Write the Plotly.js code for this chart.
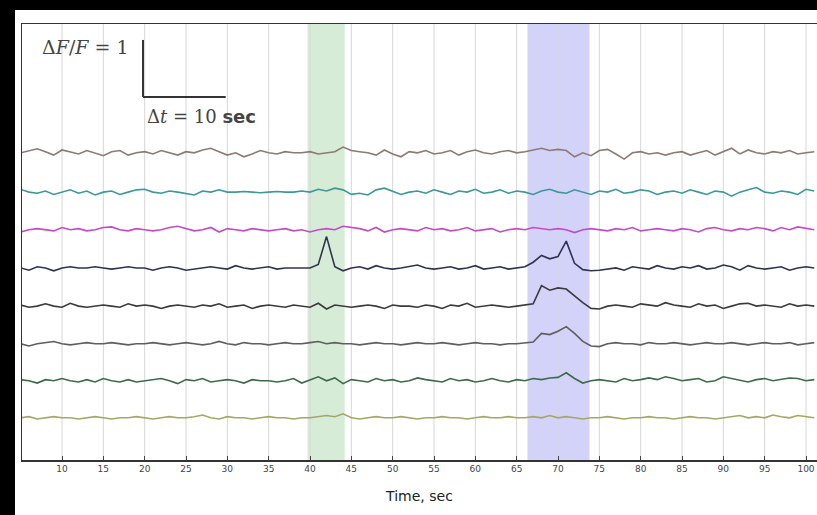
<!DOCTYPE html>
<html><head><meta charset="utf-8">
<script src="https://cdn.plot.ly/plotly-3.0.1.min.js"></script>
<style>
html,body{margin:0;padding:0;background:#000;overflow:hidden;}
#wrap{position:absolute;left:15px;top:10px;width:802px;height:505px;background:#fff;}
#chart{width:802px;height:505px;}
</style></head>
<body><div id="wrap"><div id="chart"></div></div>
<script>
// Time axis: samples every 1 s starting at t = 5 s
const tStart = 5;
const tStep = 1;
// Traces, values in hundredths of dF/F (relative to each trace's baseline)
const cell1 = [0,4,7,2,-4,5,2,-2,4,0, -5,2,4,-4,0,2,-2,4,0,-4, 2,0,5,8,2,-4,0,-7,-2,4, 0,-2,2,0,0,2,-2,0,2,10, 4,2,0,-4,5,-2,-7,2,0,4, -2,0,4,-4,2,5,0,-2,2,4, 0,2,5,8,4,6,4,-7,0,-5, 4,6,-2,-11,0,2,-2,0,-4,0, 2,-4,0,4,-4,2,8,-2,5,0, -2,2,0,4,-2,0,2];
const cell2 = [5,0,-2,2,-4,0,4,-2,2,-5, 0,2,-4,0,4,5,0,-2,2,0, -2,-5,2,0,4,0,0,1,0,-1, 0,1,0,0,2,0,5,2,7,4, -4,-2,-5,4,7,2,-4,0,2,-2, 4,0,-4,2,0,5,-2,0,4,-2, 2,0,-4,2,5,0,-2,4,0,-4, 2,0,5,-2,0,4,2,-4,0,2, -2,4,0,-4,2,0,-7,0,4,8, 0,-2,2,0,-4,5,2];
const cell3 = [-4,0,2,0,-2,4,0,2,-2,0, 4,5,0,-2,2,0,-2,0,4,6, 2,-2,0,4,-4,2,0,-2,2,0, -2,0,2,-2,0,-4,0,2,0,6, 4,2,-2,4,-4,0,2,0,-2,4, 0,2,-2,0,4,-2,0,2,-4,0, 2,0,4,2,0,2,0,-5,0,2, 0,-2,2,0,4,-2,0,2,0,-2, 2,0,-4,2,4,0,-2,2,0,4, 2,-2,4,0,5,2,0];
const cell4 = [0,-4,2,0,-5,0,2,0,0,2, 0,-2,0,2,0,0,-4,0,2,0, -4,-2,0,2,0,-2,4,0,-2,0, 2,-2,0,0,0,0,6,55,2,-5, 0,2,-2,4,0,-2,0,2,5,0, -2,0,2,-2,0,4,-2,0,2,-2, 0,2,10,22,16,20,47,8,-3,-5, -4,-2,0,-4,2,0,-2,4,0,-2, 2,0,4,-2,0,5,2,-4,4,0, -2,0,2,-4,0,2,0];
const cell5 = [2,-2,0,4,0,-2,5,0,-2,0, 2,0,-2,4,0,2,0,-4,0,2, 0,-2,2,0,4,-2,0,2,-4,0, 2,0,-2,2,0,-2,5,-5,2,0, -2,0,2,0,-4,2,0,0,-2,2, 0,-4,2,0,5,-2,0,2,0,-2, 0,2,4,36,28,32,30,18,6,-4, -5,0,2,0,-2,4,2,0,6,2, 0,-2,4,0,2,-4,0,4,5,0, 2,0,-2,4,0,2,0];
const cell6 = [0,-4,0,2,4,0,-2,0,2,0, 0,2,0,-2,0,0,2,0,-2,0, 2,0,-2,0,4,0,-2,2,0,0, -2,0,2,0,0,2,4,0,2,0, 0,-2,0,2,0,0,-2,0,2,0, 0,2,0,-2,0,2,0,0,-2,0, 0,2,3,18,16,22,30,18,4,-4, -5,0,2,0,0,-2,2,0,0,2, 0,-2,0,2,0,0,2,0,-2,0, 2,0,0,2,-2,0,2];
const cell7 = [2,0,-4,2,0,4,0,-2,2,-2, 4,0,-2,2,-2,0,2,4,0,-5, 2,0,4,-2,0,2,0,-4,2,0, 0,-2,0,4,-4,2,7,0,5,-5, 2,0,-2,4,0,2,-2,0,5,2, 0,-2,4,0,2,-2,0,4,0,-2, 2,0,4,2,5,6,14,4,-4,0, 2,0,-2,4,0,2,5,2,7,4, 0,2,4,-2,0,7,4,0,-2,2, 4,0,2,5,4,0,2];
const cell8 = [0,2,-2,0,2,0,0,-2,0,2, 0,-2,0,0,2,0,-2,0,2,0, 0,2,5,0,-2,2,0,0,-2,0, 2,0,0,-2,0,0,2,4,2,7, 0,-2,0,2,0,0,2,0,-2,0, 0,2,0,0,-2,0,2,0,0,2, 0,0,2,0,4,0,2,0,-2,0, 0,2,0,-2,0,0,2,0,0,-2, 0,2,0,0,-2,0,2,4,0,2, 0,5,2,0,4,2,0];
const cells = [cell1, cell2, cell3, cell4, cell5, cell6, cell7, cell8];
// Vertical stacking offsets of the traces (dF/F units)
const traceOffsets = [5.39, 4.70, 4.04, 3.37, 2.70, 2.04, 1.39, 0.74];
// Stimulus windows (s)
const stimGreen = [39.7, 44.2];
const stimBlue = [66.3, 73.8];
// Tick values
const tickVals = [10,15,20,25,30,35,40,45,50,55,60,65,70,75,80,85,90,95,100];

const colors = ['#8c7a76','#3e9898','#c24cc6','#2f3350','#3a3a3a','#5e5e5e','#3d6b4a','#a4a866'];

const traces = cells.map((c, i) => ({
  type: 'scatter', mode: 'lines',
  x0: tStart, dx: tStep,
  y: c.map(v => v / 100 + traceOffsets[i]),
  line: {color: colors[i], width: 1.6},
  hoverinfo: 'skip', showlegend: false
}));

const gridShapes = tickVals.map(v => ({
  type: 'line', xref: 'x', yref: 'paper', x0: v, x1: v, y0: 0, y1: 1,
  line: {color: '#d6d6d6', width: 1}, layer: 'below'
}));

const layout = {
  width: 802, height: 505,
  margin: {l: 7, r: 0, t: 14, b: 55},
  paper_bgcolor: '#ffffff', plot_bgcolor: '#ffffff',
  showlegend: false,
  xaxis: {
    range: [5.16, 101.33], tickvals: tickVals, ticktext: tickVals.map(String),
    showgrid: false, zeroline: false, showline: true, linecolor: '#333', linewidth: 1.5,
    mirror: true, ticks: 'inside', ticklen: 4, tickcolor: '#444',
    tickfont: {family: 'DejaVu Sans', size: 9, color: '#444'},
    title: {text: 'Time, sec', font: {family: 'DejaVu Sans', size: 14, color: '#222'}, standoff: 18}
  },
  yaxis: {
    range: [0, 7.65], showticklabels: false, showgrid: false, zeroline: false,
    showline: true, linecolor: '#333', linewidth: 1.5, mirror: false, ticks: ''
  },
  shapes: [
    {type: 'rect', xref: 'x', yref: 'paper', x0: stimGreen[0], x1: stimGreen[1], y0: 0, y1: 1,
     fillcolor: 'rgba(140,200,140,0.35)', line: {width: 0}, layer: 'below'},
    {type: 'rect', xref: 'x', yref: 'paper', x0: stimBlue[0], x1: stimBlue[1], y0: 0, y1: 1,
     fillcolor: 'rgba(130,130,240,0.35)', line: {width: 0}, layer: 'below'},
    ...gridShapes,
    // scale bar: 1 dF/F vertical, 10 s horizontal
    {type: 'line', xref: 'x', yref: 'y', x0: 19.8, x1: 19.8, y0: 6.37, y1: 7.37, line: {color: '#333', width: 2}},
    {type: 'line', xref: 'x', yref: 'y', x0: 19.8, x1: 29.8, y0: 6.37, y1: 6.37, line: {color: '#333', width: 2}}
  ],
  annotations: [
    {xref: 'x', yref: 'y', x: 18.4, y: 7.25, xanchor: 'right', yanchor: 'middle', showarrow: false,
     text: 'Δ<i>F</i>/<i>F</i> = 1', font: {family: 'DejaVu Serif', size: 19, color: '#444'}},
    {xref: 'x', yref: 'y', x: 20.0, y: 6.02, xanchor: 'left', yanchor: 'middle', showarrow: false,
     text: 'Δ<i>t</i> = 10 <span style="font-family:DejaVu Sans;font-weight:bold">sec</span>', font: {family: 'DejaVu Serif', size: 18, color: '#444'}}
  ]
};

Plotly.newPlot('chart', traces, layout, {staticPlot: true, displayModeBar: false});
</script>
</body></html>
